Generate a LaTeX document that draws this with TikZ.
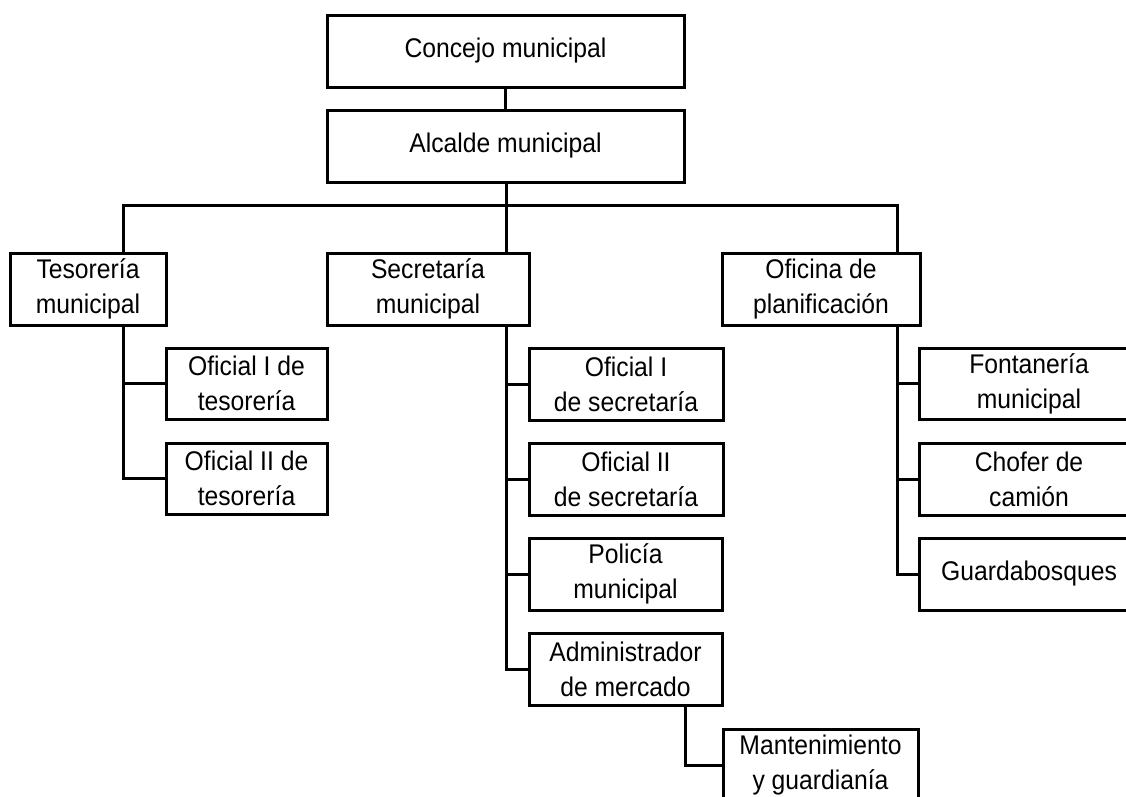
\documentclass[tikz,border=0pt]{standalone}
\usepackage{fontspec}
\setmainfont[FakeStretch=0.915]{Liberation Sans}
\newcommand\orgbox[6]{%
  \node[orgnode, minimum width={#4-#2}, minimum height={#5-#3}] (#1) at ({(#2+#4)/2},{(#3+#5)/2}) {#6};}
\begin{document}
\begin{tikzpicture}[x=1pt,y=-1pt,
  orgnode/.style={draw, line width=3pt, inner sep=0pt, outer sep=0pt, align=center,
    font=\fontsize{27}{35}\selectfont},
  link/.style={draw, line width=3pt}]
\useasboundingbox (0,0) rectangle (1126,796);
\clip (0,0) rectangle (1126,796);
\fill[white] (0,0) rectangle (1126,796);
\orgbox{concejo}{327}{15}{684}{87}{Concejo municipal}
\orgbox{alcalde}{327}{110}{684}{182}{Alcalde municipal}
\orgbox{teso}{10}{253}{166}{325}{Tesorería\\municipal}
\orgbox{secre}{327}{253}{529}{325}{Secretaría\\municipal}
\orgbox{ofic}{722}{253}{920}{325}{Oficina de\\planificación}
\orgbox{t1}{166}{348}{327}{419}{Oficial I de\\tesorería}
\orgbox{t2}{166}{443}{327}{514}{Oficial II de\\tesorería}
\orgbox{s1}{529}{348}{723}{420}{Oficial I\\de secretaría}
\orgbox{s2}{529}{443}{723}{515}{Oficial II\\de secretaría}
\orgbox{s3}{529}{538}{722}{610}{Policía\\municipal}
\orgbox{s4}{529}{633}{722}{705}{Administrador\\de mercado}
\orgbox{p1}{919}{348}{1139}{419}{Fontanería\\municipal}
\orgbox{p2}{919}{443}{1139}{515}{Chofer de\\camión}
\orgbox{p3}{919}{538}{1139}{610}{Guardabosques}
\orgbox{mant}{723}{729}{918}{801}{Mantenimiento\\y guardianía}
\coordinate (busL) at (123,205);
\coordinate (busR) at (897,205);
\coordinate (mid) at (506,205);
\coordinate (adm) at (685,705);
\draw[link] (concejo.south) -- (alcalde.north);
\draw[link] (mid |- alcalde.south) -- (mid |- secre.north);
\draw[link] (busL |- teso.north) -- (busL) -- (busR) -- (busR |- ofic.north);
\draw[link] (busL |- teso.south) |- (t1.west);
\draw[link] (busL |- teso.south) |- (t2.west);
\draw[link] (mid |- secre.south) |- (s1.west);
\draw[link] (mid |- secre.south) |- (s2.west);
\draw[link] (mid |- secre.south) |- (s3.west);
\draw[link] (mid |- secre.south) |- (s4.west);
\draw[link] (busR |- ofic.south) |- (p1.west);
\draw[link] (busR |- ofic.south) |- (p2.west);
\draw[link] (busR |- ofic.south) |- (p3.west);
\draw[link] (adm |- s4.south) |- (mant.west);
\end{tikzpicture}
\end{document}
